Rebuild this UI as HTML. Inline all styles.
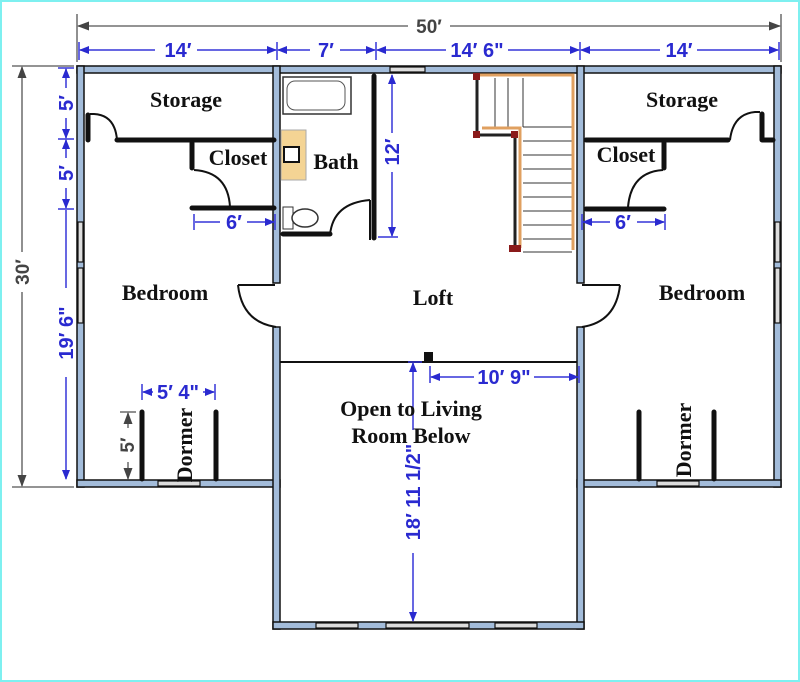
<!DOCTYPE html>
<html><head><style>
body{margin:0;background:#fff}
svg{display:block}
.w{fill:#a3bcda;stroke:#111;stroke-width:1.5}
.l{font-family:"Liberation Serif",serif;font-weight:bold;font-size:22px;fill:#111}
.d{font-family:"Liberation Sans",sans-serif;font-weight:bold;font-size:20px;fill:#2a2ad0}
.g{font-family:"Liberation Sans",sans-serif;font-weight:bold;font-size:19px;fill:#444}
.bl{stroke:#3535d8;stroke-width:1.5;fill:none}
.gl{stroke:#555;stroke-width:1.3;fill:none}
.iw{stroke:#111;stroke-width:5;stroke-linecap:round;fill:none}
.dr{stroke:#111;stroke-width:2;fill:none}
</style></head><body>
<svg width="800" height="682" viewBox="0 0 800 682" xmlns="http://www.w3.org/2000/svg">
<defs>
<marker id="ab" markerWidth="10" markerHeight="8" refX="9" refY="4" orient="auto-start-reverse" markerUnits="userSpaceOnUse"><path d="M0,0L10,4L0,8z" fill="#2a2ad0"/></marker>
<marker id="ag" markerWidth="12" markerHeight="9" refX="11" refY="4.5" orient="auto-start-reverse" markerUnits="userSpaceOnUse"><path d="M0,0L12,4.5L0,9z" fill="#444"/></marker>
</defs>
<rect x="1" y="1" width="798" height="680" fill="#fff" stroke="#7ef0f0" stroke-width="2"/>

<line x1="77" y1="14" x2="77" y2="62" class="gl"/><line x1="781" y1="14" x2="781" y2="62" class="gl"/>
<line x1="78" y1="26" x2="408" y2="26" class="gl" marker-start="url(#ag)"/>
<line x1="450" y1="26" x2="780" y2="26" class="gl" marker-end="url(#ag)"/>
<text x="429" y="33" class="g" text-anchor="middle">50′</text>
<line x1="12" y1="66" x2="74" y2="66" class="gl"/><line x1="12" y1="487" x2="74" y2="487" class="gl"/>
<line x1="22" y1="67" x2="22" y2="252" class="gl" marker-start="url(#ag)"/>
<line x1="22" y1="292" x2="22" y2="486" class="gl" marker-end="url(#ag)"/>
<text transform="translate(29,272) rotate(-90)" class="g" text-anchor="middle">30′</text>

<g class="bl"><line x1="79" y1="42" x2="79" y2="60"/><line x1="277" y1="42" x2="277" y2="60"/><line x1="376" y1="42" x2="376" y2="60"/><line x1="580" y1="42" x2="580" y2="60"/><line x1="779" y1="42" x2="779" y2="60"/></g>
<line x1="80" y1="50" x2="155" y2="50" class="bl" marker-start="url(#ab)"/><line x1="197" y1="50" x2="276" y2="50" class="bl" marker-end="url(#ab)"/>
<text x="178" y="57" class="d" text-anchor="middle">14′</text>
<line x1="278" y1="50" x2="310" y2="50" class="bl" marker-start="url(#ab)"/><line x1="340" y1="50" x2="375" y2="50" class="bl" marker-end="url(#ab)"/>
<text x="326" y="57" class="d" text-anchor="middle">7′</text>
<line x1="377" y1="50" x2="446" y2="50" class="bl" marker-start="url(#ab)"/><line x1="508" y1="50" x2="579" y2="50" class="bl" marker-end="url(#ab)"/>
<text x="477" y="57" class="d" text-anchor="middle">14′ 6"</text>
<line x1="581" y1="50" x2="660" y2="50" class="bl" marker-start="url(#ab)"/><line x1="697" y1="50" x2="778" y2="50" class="bl" marker-end="url(#ab)"/>
<text x="679" y="57" class="d" text-anchor="middle">14′</text>

<g class="bl"><line x1="58" y1="68" x2="74" y2="68"/><line x1="58" y1="139" x2="74" y2="139"/><line x1="58" y1="209" x2="74" y2="209"/></g>
<line x1="66" y1="69" x2="66" y2="88" class="bl" marker-start="url(#ab)"/><line x1="66" y1="118" x2="66" y2="138" class="bl" marker-end="url(#ab)"/>
<text transform="translate(73,103) rotate(-90)" class="d" text-anchor="middle">5′</text>
<line x1="66" y1="140" x2="66" y2="158" class="bl" marker-start="url(#ab)"/><line x1="66" y1="188" x2="66" y2="208" class="bl" marker-end="url(#ab)"/>
<text transform="translate(73,173) rotate(-90)" class="d" text-anchor="middle">5′</text>
<line x1="66" y1="210" x2="66" y2="288" class="bl"/><line x1="66" y1="377" x2="66" y2="479" class="bl" marker-end="url(#ab)"/>
<text transform="translate(73,333) rotate(-90)" class="d" text-anchor="middle">19′ 6"</text>

<rect class="w" x="77" y="66" width="704" height="7"/>
<rect class="w" x="77" y="66" width="7" height="421"/>
<rect class="w" x="774" y="66" width="7" height="421"/>
<rect class="w" x="77" y="480" width="203" height="7"/>
<rect class="w" x="577" y="480" width="204" height="7"/>
<rect class="w" x="273" y="66" width="7" height="217"/>
<rect class="w" x="273" y="327" width="7" height="302"/>
<rect class="w" x="577" y="66" width="7" height="217"/>
<rect class="w" x="577" y="327" width="7" height="302"/>
<rect class="w" x="273" y="622" width="311" height="7"/>
<g fill="#ddd" stroke="#111" stroke-width="1.2">
<rect x="390" y="67" width="35" height="5"/>
<rect x="78" y="222" width="5" height="40"/><rect x="78" y="268" width="5" height="55"/>
<rect x="775" y="222" width="5" height="40"/><rect x="775" y="268" width="5" height="55"/>
<rect x="158" y="481" width="42" height="5"/><rect x="657" y="481" width="42" height="5"/>
<rect x="316" y="623" width="42" height="5"/><rect x="386" y="623" width="83" height="5"/><rect x="495" y="623" width="42" height="5"/>
</g>

<path class="iw" d="M117 140H274M192 143V168M192 208H274M88 140V115"/>
<path class="dr" d="M90 114H94Q115 115 117 140"/>
<path class="dr" d="M194 170Q228 172 230 207"/>
<path class="iw" d="M374 76V238M283 234H330"/>
<path class="dr" d="M370 200V240M330 235Q333 203 370 200"/>
<rect x="283" y="77" width="68" height="37" fill="#fff" stroke="#333" stroke-width="1.5"/>
<rect x="287" y="81" width="58" height="29" rx="8" fill="#fff" stroke="#555"/>
<rect x="281" y="130" width="25" height="50" fill="#f4d494" stroke="#aaa"/>
<rect x="284" y="147" width="15" height="15" fill="#fff" stroke="#111" stroke-width="2"/>
<rect x="283" y="207" width="10" height="22" fill="#fff" stroke="#333"/>
<ellipse cx="305" cy="218" rx="13" ry="9" fill="#fff" stroke="#333" stroke-width="1.5"/>
<line x1="392" y1="75" x2="392" y2="133" class="bl" marker-start="url(#ab)"/><line x1="392" y1="172" x2="392" y2="236" class="bl" marker-end="url(#ab)"/>
<line x1="378" y1="237" x2="398" y2="237" class="bl"/>
<text transform="translate(399,152) rotate(-90)" class="d" text-anchor="middle">12′</text>

<g stroke="#333" stroke-width="1">
<line x1="495" y1="78" x2="495" y2="127"/><line x1="508" y1="78" x2="508" y2="127"/><line x1="523" y1="78" x2="523" y2="127"/>
<line x1="523" y1="127" x2="572" y2="127"/><line x1="523" y1="141" x2="572" y2="141"/><line x1="523" y1="155" x2="572" y2="155"/><line x1="523" y1="169" x2="572" y2="169"/><line x1="523" y1="183" x2="572" y2="183"/><line x1="523" y1="197" x2="572" y2="197"/><line x1="523" y1="211" x2="572" y2="211"/><line x1="523" y1="225" x2="572" y2="225"/><line x1="523" y1="239" x2="572" y2="239"/><line x1="523" y1="252" x2="572" y2="252"/>
</g>
<path d="M480 75H573V250M482 128H520V248" stroke="#e0a060" stroke-width="3" fill="none"/>
<path d="M477 77V135H515V248" stroke="#222" stroke-width="3" fill="none"/>
<g fill="#8a1a1a"><rect x="473" y="73" width="7" height="7"/><rect x="473" y="131" width="7" height="7"/><rect x="511" y="131" width="7" height="7"/><rect x="509" y="245" width="12" height="7"/></g>

<path class="iw" d="M586 140H728M762 140H773M664 143V168M586 209H664M762 140V114"/>
<path class="dr" d="M760 112H755Q733 114 730 140"/>
<path class="dr" d="M663 170Q631 172 628 207"/>

<path class="dr" d="M238 285H275M238 285Q242 322 276 327" stroke-width="2.5"/>
<path class="dr" d="M582 285H620M620 285Q616 322 582 327" stroke-width="2.5"/>
<line x1="280" y1="362" x2="577" y2="362" stroke="#111" stroke-width="2"/>
<rect x="424" y="352" width="9" height="9" fill="#111"/>

<path class="iw" d="M142 412V479M216 412V479M639 412V479M714 412V479"/>
<line x1="142" y1="384" x2="142" y2="400" class="bl"/><line x1="215" y1="384" x2="215" y2="400" class="bl"/>
<line x1="143" y1="392" x2="153" y2="392" class="bl" marker-start="url(#ab)"/><line x1="203" y1="392" x2="214" y2="392" class="bl" marker-end="url(#ab)"/>
<text x="178" y="399" class="d" text-anchor="middle">5′ 4"</text>
<line x1="120" y1="412" x2="136" y2="412" class="gl"/>
<line x1="128" y1="413" x2="128" y2="428" class="gl" marker-start="url(#ag)"/><line x1="128" y1="462" x2="128" y2="479" class="gl" marker-end="url(#ag)"/>
<text transform="translate(134,445) rotate(-90)" class="g" text-anchor="middle">5′</text>
<text transform="translate(192,445) rotate(-90)" class="l" text-anchor="middle">Dormer</text>
<text transform="translate(691,440) rotate(-90)" class="l" text-anchor="middle">Dormer</text>

<line x1="194" y1="214" x2="194" y2="230" class="bl"/><line x1="275" y1="214" x2="275" y2="230" class="bl"/>
<line x1="195" y1="222" x2="220" y2="222" class="bl"/><line x1="247" y1="222" x2="274" y2="222" class="bl" marker-end="url(#ab)"/>
<text x="234" y="229" class="d" text-anchor="middle">6′</text>
<line x1="582" y1="214" x2="582" y2="230" class="bl"/><line x1="665" y1="214" x2="665" y2="230" class="bl"/>
<line x1="583" y1="222" x2="610" y2="222" class="bl" marker-start="url(#ab)"/><line x1="637" y1="222" x2="664" y2="222" class="bl" marker-end="url(#ab)"/>
<text x="623" y="229" class="d" text-anchor="middle">6′</text>

<line x1="430" y1="366" x2="430" y2="383" class="bl"/><line x1="579" y1="366" x2="579" y2="383" class="bl"/>
<line x1="431" y1="377" x2="474" y2="377" class="bl" marker-start="url(#ab)"/><line x1="534" y1="377" x2="578" y2="377" class="bl" marker-end="url(#ab)"/>
<text x="504" y="384" class="d" text-anchor="middle">10′ 9"</text>
<line x1="408" y1="362" x2="422" y2="362" class="bl"/>
<line x1="413" y1="363" x2="413" y2="430" class="bl" marker-start="url(#ab)"/><line x1="413" y1="553" x2="413" y2="621" class="bl" marker-end="url(#ab)"/>
<text transform="translate(420,492) rotate(-90)" class="d" text-anchor="middle">18′ 11 1/2"</text>

<text x="186" y="107" class="l" text-anchor="middle">Storage</text>
<text x="238" y="165" class="l" text-anchor="middle">Closet</text>
<text x="336" y="169" class="l" text-anchor="middle">Bath</text>
<text x="165" y="300" class="l" text-anchor="middle">Bedroom</text>
<text x="433" y="305" class="l" text-anchor="middle">Loft</text>
<text x="411" y="416" class="l" text-anchor="middle">Open to Living</text>
<text x="411" y="443" class="l" text-anchor="middle">Room Below</text>
<text x="682" y="107" class="l" text-anchor="middle">Storage</text>
<text x="626" y="162" class="l" text-anchor="middle">Closet</text>
<text x="702" y="300" class="l" text-anchor="middle">Bedroom</text>
</svg>
</body></html>
